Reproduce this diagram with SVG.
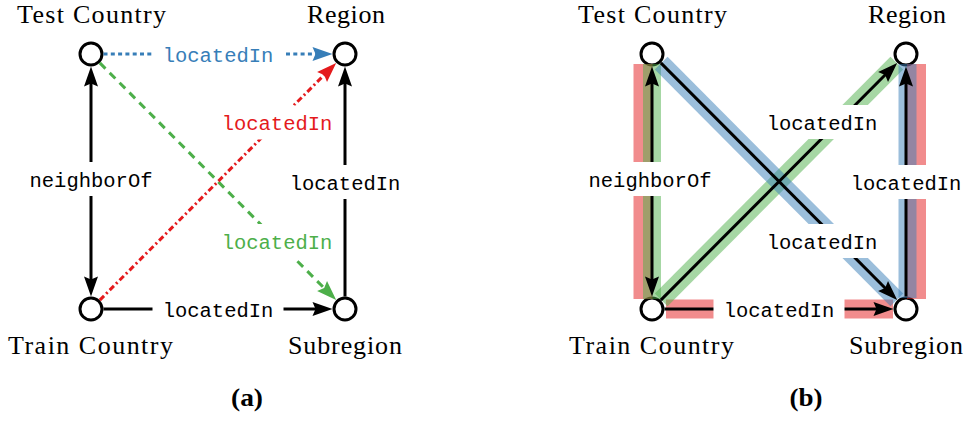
<svg xmlns="http://www.w3.org/2000/svg" width="967" height="421" viewBox="0 0 967 421">
<style>
.node{fill:#fff;stroke:#000;stroke-width:3}
.nl{font-family:"Liberation Serif","Times New Roman",serif;font-size:26px;fill:#000;text-anchor:middle}
.cap{font-family:"Liberation Serif","Times New Roman",serif;font-size:25px;font-weight:bold;fill:#000;text-anchor:middle}
.e{fill:none;stroke-width:3}
.k{stroke:#000}
.bl{stroke:#377eb8;stroke-dasharray:4 3.3}
.gr{stroke:#4daf4a;stroke-dasharray:8 6}
.rd{stroke:#e41a1c;stroke-dasharray:6 3 2 3}
.lb{fill:#fff}
.lt{font-family:"Liberation Mono","Courier New",monospace;font-size:20.5px;text-anchor:middle}
.band{fill:none;stroke-width:18;stroke-opacity:0.5}
.bR{stroke:#e41a1c;stroke-width:19}
.bG{stroke:#4daf4a}
.bB{stroke:#377eb8}
</style>
<defs>
<marker id="ak" markerUnits="userSpaceOnUse" markerWidth="24" markerHeight="18" viewBox="-2 -9 24 18" refX="6" refY="0" orient="auto-start-reverse"><path d="M20,0 L0,-7 L3,0 L0,7 Z" fill="#000"/></marker>
<marker id="ab" markerUnits="userSpaceOnUse" markerWidth="24" markerHeight="18" viewBox="-2 -9 24 18" refX="6" refY="0" orient="auto"><path d="M20,0 L0,-7 L3,0 L0,7 Z" fill="#377eb8"/></marker>
<marker id="ag" markerUnits="userSpaceOnUse" markerWidth="24" markerHeight="18" viewBox="-2 -9 24 18" refX="6" refY="0" orient="auto"><path d="M20,0 L0,-7 L3,0 L0,7 Z" fill="#4daf4a"/></marker>
<marker id="ar" markerUnits="userSpaceOnUse" markerWidth="24" markerHeight="18" viewBox="-2 -9 24 18" refX="6" refY="0" orient="auto"><path d="M20,0 L0,-7 L3,0 L0,7 Z" fill="#e41a1c"/></marker>
</defs>
<rect width="967" height="421" fill="#fff"/>

<!-- Panel (a) -->
<g id="a-nodes">
<g id="a-test"><circle class="node" cx="91" cy="54" r="11"/><text class="nl" x="91.5" y="23" textLength="149" lengthAdjust="spacing">Test Country</text></g>
<g id="a-region"><circle class="node" cx="345" cy="54" r="11"/><text class="nl" x="346" y="23" textLength="78" lengthAdjust="spacing">Region</text></g>
<g id="a-train"><circle class="node" cx="91" cy="309" r="11"/><text class="nl" x="90.5" y="354" textLength="165" lengthAdjust="spacing">Train Country</text></g>
<g id="a-sub"><circle class="node" cx="345" cy="309" r="11"/><text class="nl" x="345" y="354" textLength="114" lengthAdjust="spacing">Subregion</text></g>
</g>
<g id="a-edges">
<path class="e bl" d="M103.5,54 L318.5,54" marker-end="url(#ab)"/>
<path class="e k" d="M91,80.5 L91,282.5" marker-start="url(#ak)" marker-end="url(#ak)"/>
<path class="e k" d="M345,296.5 L345,80.5" marker-end="url(#ak)"/>
<path class="e k" d="M103.5,309 L318.5,309" marker-end="url(#ak)"/>
<path class="e gr" d="M99.8,62.9 L326.3,290.2" marker-end="url(#ag)"/>
<path class="e rd" d="M99.8,300.1 L326.3,72.8" marker-end="url(#ar)"/>
</g>
<g id="a-labels">
<rect class="lb" x="152.5" y="37" width="131" height="34"/><text class="lt" x="218" y="61.5" fill="#377eb8">locatedIn</text>
<rect class="lb" x="19" y="162" width="144" height="34"/><text class="lt" x="91" y="186.5" fill="#000">neighborOf</text>
<rect class="lb" x="279.5" y="165" width="131" height="34"/><text class="lt" x="345" y="189.5" fill="#000">locatedIn</text>
<rect class="lb" x="152.5" y="292" width="131" height="34"/><text class="lt" x="218" y="316.5" fill="#000">locatedIn</text>
<rect class="lb" x="211.5" y="224" width="131" height="34"/><text class="lt" x="277" y="248.5" fill="#4daf4a">locatedIn</text>
<rect class="lb" x="211.5" y="105.5" width="131" height="34"/><text class="lt" x="277" y="130" fill="#e41a1c">locatedIn</text>
</g>
<text class="cap" x="247" y="406" textLength="32" lengthAdjust="spacingAndGlyphs">(a)</text>

<!-- Panel (b) -->
<g id="b-nodes">
<g id="b-test"><circle class="node" cx="652" cy="54" r="11"/><text class="nl" x="652.5" y="23" textLength="149" lengthAdjust="spacing">Test Country</text></g>
<g id="b-region"><circle class="node" cx="906" cy="54" r="11"/><text class="nl" x="907" y="23" textLength="78" lengthAdjust="spacing">Region</text></g>
<g id="b-train"><circle class="node" cx="652" cy="309" r="11"/><text class="nl" x="651.5" y="354" textLength="165" lengthAdjust="spacing">Train Country</text></g>
<g id="b-sub"><circle class="node" cx="906" cy="309" r="11"/><text class="nl" x="906" y="354" textLength="114" lengthAdjust="spacing">Subregion</text></g>
</g>
<g id="b-highlights">
<path class="band bR" d="M643,64 L643,299"/>
<path class="band bR" d="M666,309 L893,309"/>
<path class="band bR" d="M916.5,64 L916.5,299"/>
<path class="band bG" d="M652,64 L652,299"/>
<path class="band bG" d="M661.2,299.8 L896.8,63.2"/>
<path class="band bB" d="M661.2,63.2 L896.8,299.8"/>
<path class="band bB" d="M907.5,64 L907.5,298"/>
</g>
<g id="b-edges">
<path class="e k" d="M652,80.5 L652,282.5" marker-start="url(#ak)" marker-end="url(#ak)"/>
<path class="e k" d="M906,296.5 L906,80.5" marker-end="url(#ak)"/>
<path class="e k" d="M664.5,309 L879.5,309" marker-end="url(#ak)"/>
<path class="e k" d="M660.8,62.9 L887.3,290.2" marker-end="url(#ak)"/>
<path class="e k" d="M660.8,300.1 L887.3,72.8" marker-end="url(#ak)"/>
</g>
<g id="b-labels">
<rect class="lb" x="578" y="162" width="144" height="34"/><text class="lt" x="650" y="186.5" fill="#000">neighborOf</text>
<rect class="lb" x="840.5" y="165" width="131" height="34"/><text class="lt" x="906" y="189.5" fill="#000">locatedIn</text>
<rect class="lb" x="713.5" y="292" width="131" height="34"/><text class="lt" x="779" y="316.5" fill="#000">locatedIn</text>
<rect class="lb" x="756.5" y="105" width="131" height="34"/><text class="lt" x="822" y="129.5" fill="#000">locatedIn</text>
<rect class="lb" x="756.5" y="224" width="131" height="34"/><text class="lt" x="822" y="248.5" fill="#000">locatedIn</text>
</g>
<text class="cap" x="806" y="406" textLength="33" lengthAdjust="spacingAndGlyphs">(b)</text>
</svg>
